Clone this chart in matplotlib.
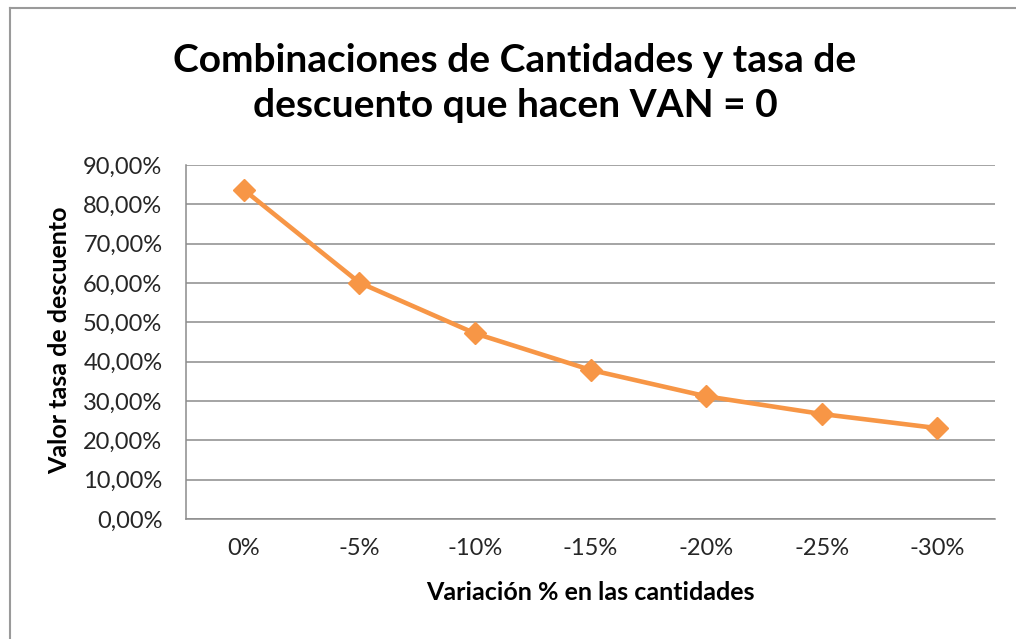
import matplotlib
matplotlib.use("Agg")
import matplotlib.pyplot as plt
from matplotlib.lines import Line2D
from matplotlib.ticker import FuncFormatter

categories = ["0%", "-5%", "-10%", "-15%", "-20%", "-25%", "-30%"]
tasa = [0.837, 0.601, 0.472, 0.379, 0.312, 0.267, 0.231]
yticks = [0.0, 0.1, 0.2, 0.3, 0.4, 0.5, 0.6, 0.7, 0.8, 0.9]

plt.rcParams['font.family'] = ['Lato', 'DejaVu Sans']

W, H = 1016, 639
fig = plt.figure(figsize=(W / 100, H / 100), dpi=100)
fig.patch.set_facecolor("white")

ax = fig.add_axes([186 / W, 1 - 519 / H, (995 - 186) / W, (519 - 165) / H])
x = list(range(len(categories)))
ax.plot(x, tasa, color="#F79646", lw=3.3, marker="D", markersize=11,
        markerfacecolor="#F79646", markeredgecolor="#F79646", solid_capstyle="round")
ax.set_xlim(-0.5, len(categories) - 0.5)
ax.set_ylim(0, 0.9)
ax.set_yticks(yticks)
ax.yaxis.set_major_formatter(FuncFormatter(lambda v, p: f"{v*100:.2f}%".replace(".", ",")))
ax.set_xticks(x)
ax.set_xticklabels(categories)
ax.grid(axis="y", color="#8c8c8c", lw=1.1)
ax.set_axisbelow(True)
for s in ["top", "right"]:
    ax.spines[s].set_visible(False)
ax.spines["left"].set_color("#8c8c8c")
ax.spines["bottom"].set_color("#8c8c8c")
ax.spines["left"].set_linewidth(1.1)
ax.spines["bottom"].set_linewidth(1.1)
ax.tick_params(axis="both", length=0, labelsize=17, colors="#262626")
ax.tick_params(axis="y", pad=17)
ax.tick_params(axis="x", pad=14)

fig.text(60 / W, 1 - 340 / H, "Valor tasa de descuento", rotation=90,
         ha="center", va="center", fontsize=18, fontweight="bold")
fig.text(590 / W, 1 - 593 / H, "Variación % en las cantidades",
         ha="center", va="center", fontsize=18, fontweight="bold")

fig.text(515 / W, 1 - 83 / H, "Combinaciones de Cantidades y tasa de\ndescuento que hacen VAN = 0",
         ha="center", va="center", fontsize=28, fontweight="bold", linespacing=1.36)

fig.add_artist(Line2D([9.5 / W, 9.5 / W], [0, 1 - 8 / H], transform=fig.transFigure, color="#9a9a9a", lw=1.5))
fig.add_artist(Line2D([9.5 / W, 1], [1 - 8 / H, 1 - 8 / H], transform=fig.transFigure, color="#9a9a9a", lw=1.5))

fig.savefig("out.png", dpi=100)
